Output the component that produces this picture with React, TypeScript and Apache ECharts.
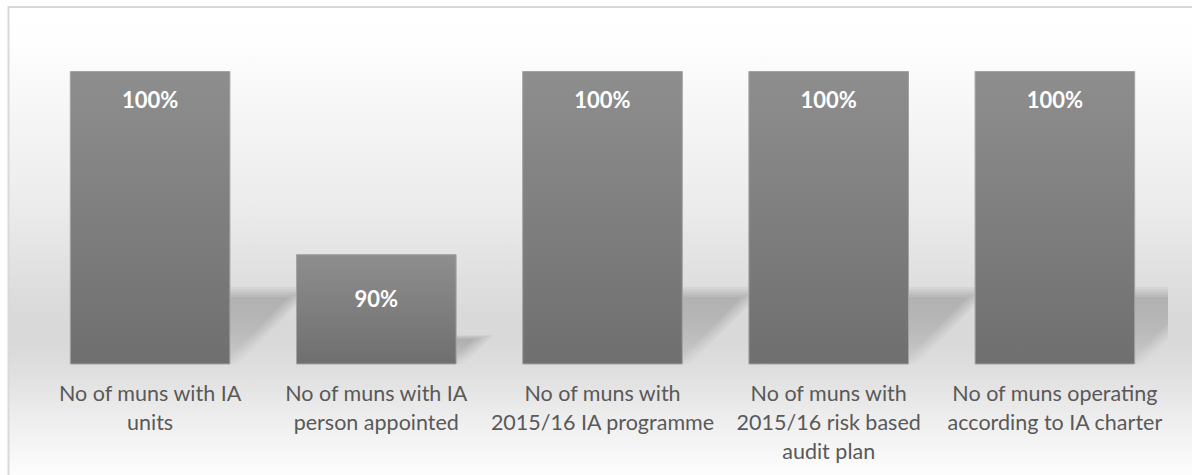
import React, { useEffect, useRef } from "react";
import * as echarts from "echarts";

const categories: string[] = [
  "No of muns with IA\nunits",
  "No of muns with IA\nperson appointed",
  "No of muns with\n2015/16 IA programme",
  "No of muns with\n2015/16 risk based\naudit plan",
  "No of muns operating\naccording to IA charter",
];
const values: number[] = [100, 90, 100, 100, 100];
const labelDistances: number[] = [17, 33, 17, 17, 17];
const AXIS_MIN = 84;
const AXIS_MAX = 100;

export default function App() {
  const ref = useRef<HTMLDivElement>(null);
  useEffect(() => {
    if (!ref.current) return;
    const chart = echarts.init(ref.current, null, { renderer: "svg" });
    const option: any = {
      animation: false,
      graphic: {
        elements: [
          {
            type: "rect",
            z: -10,
            silent: true,
            shape: { x: 8.5, y: 7, width: 1200, height: 480 },
            style: {
              fill: new echarts.graphic.LinearGradient(0, 0, 0, 1, [
                { offset: 0, color: "#ffffff" },
                { offset: 0.07, color: "#fefefe" },
                { offset: 0.2, color: "#f7f7f7" },
                { offset: 0.41, color: "#ececec" },
                { offset: 0.58, color: "#dedede" },
                { offset: 0.65, color: "#d9d9d9" },
                { offset: 0.7, color: "#d9d9d9" },
                { offset: 0.76, color: "#dfdfdf" },
                { offset: 0.86, color: "#eeeeee" },
                { offset: 0.96, color: "#fbfbfb" },
                { offset: 1, color: "#ffffff" },
              ]),
              stroke: "#d9d9d9",
              lineWidth: 2,
            },
          },
        ],
      },
      grid: { left: 37, right: 24, top: 71, bottom: 111, containLabel: false },
      xAxis: {
        type: "category",
        data: categories,
        axisLine: { show: false },
        axisTick: { show: false },
        axisLabel: {
          interval: 0,
          margin: 14,
          color: "#595959",
          fontFamily: "Lato",
          fontSize: 21.5,
          lineHeight: 29,
          align: "center",
        },
      },
      yAxis: {
        type: "value",
        min: AXIS_MIN,
        max: AXIS_MAX,
        show: false,
        splitLine: { show: false },
      },
      series: [
        {
          type: "custom",
          z: 1,
          clip: true,
          silent: true,
          data: values.map((v, i) => [i, v]),
          encode: { x: 0, y: 1 },
          renderItem: (params: any, api: any) => {
            const i = api.value(0);
            const v = api.value(1);
            const top = api.coord([i, v]);
            const base = api.coord([i, AXIS_MIN]);
            const bw = api.size([1, 0])[0] * 0.71;
            const x0 = top[0] - bw / 2;
            const x1 = top[0] + bw / 2;
            const h = base[1] - top[1];
            const sh = h * 0.245;
            const yb = base[1];
            const layers = [-5, -2.5, 0, 2.5, 5];
            const children = layers.map((d) => {
              const t = Math.max(2, sh + d * (sh / 70));
              const skew = t * 1.0 + d * 1.5;
              return {
                type: "polygon",
                shape: {
                  points: [
                    [x0, yb],
                    [x1 + d * 1.5, yb],
                    [x1 + skew, yb - t],
                    [x0 + skew, yb - t],
                  ],
                },
                style: {
                  fill: new echarts.graphic.LinearGradient(0, 0, 0, 1, [
                    { offset: 0, color: "rgba(0,0,0,0.045)" },
                    { offset: 0.5, color: "rgba(0,0,0,0.032)" },
                    { offset: 1, color: "rgba(0,0,0,0.015)" },
                  ]),
                },
              };
            });
            return { type: "group", children };
          },
        },
        {
          type: "bar",
          z: 2,
          barCategoryGap: "29%",
          data: values.map((v, i) => ({
            value: v,
            label: { distance: labelDistances[i] },
          })),
          itemStyle: {
            color: new echarts.graphic.LinearGradient(0, 0, 0, 1, [
              { offset: 0, color: "#8e8e8e" },
              { offset: 1, color: "#6f6f6f" },
            ]),
            borderColor: "#a3a3a3",
            borderWidth: 1,
          },
          label: {
            show: true,
            position: "insideTop",
            color: "#ffffff",
            fontFamily: "Lato",
            fontWeight: "bold",
            fontSize: 22,
            formatter: (p: any) => p.value + "%",
          },
        },
      ],
    };
    chart.setOption(option);
    return () => chart.dispose();
  }, []);
  return (
    <div
      ref={ref}
      style={{ position: "absolute", left: 0, top: 0, width: 1192, height: 475 }}
    />
  );
}
